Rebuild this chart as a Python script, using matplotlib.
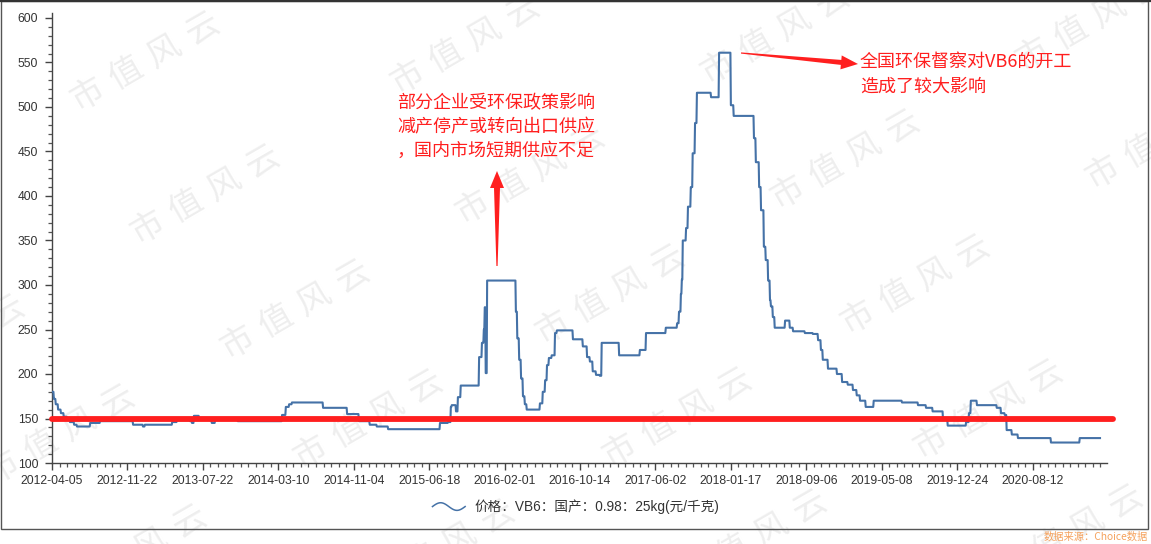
#!/usr/bin/env python
"""
VB6 domestic price (yuan/kg), daily, with the 150 reference line and two notes
"""

import numpy as np
import matplotlib
matplotlib.use("Agg")
import matplotlib.pyplot as plt
from matplotlib.lines import Line2D
from matplotlib.patches import Polygon, Rectangle
from matplotlib.legend_handler import HandlerBase
from matplotlib.ticker import FixedLocator

plt.rcParams['font.family'] = ['Liberation Sans', 'Noto Sans CJK SC', 'DejaVu Sans']

W, H = 1151, 544

# ---- data -------------------------------------------------------------
tick_labels = ["2012-04-05", "2012-11-22", "2013-07-22", "2014-03-10",
               "2014-11-04", "2015-06-18", "2016-02-01", "2016-10-14",
               "2017-06-02", "2018-01-17", "2018-09-06", "2019-05-08",
               "2019-12-24", "2020-08-12"]
label_step = 160          # trading days between two date labels
n_days = 2224

# (trading-day index where a price level starts, price)
steps = [(0, 180), (4, 172), (8, 166), (13, 160), (19, 156), (25, 152), (32, 149),
         (38, 146), (47, 143), (53, 141), (81, 145), (102, 147), (172, 143),
         (193, 141), (197, 143), (255, 146), (265, 148), (293, 147), (297, 145),
         (301, 153), (312, 150), (335, 148), (339, 145), (346, 149), (394, 147),
         (488, 154), (496, 163), (503, 166), (509, 168), (575, 162), (626, 155),
         (651, 147), (674, 143), (689, 141), (713, 138), (823, 145), (840, 146),
         (846, 163), (848, 165), (857, 158), (861, 174), (867, 187), (906, 219),
         (912, 235), (916, 250), (918, 275), (920, 201), (923, 305), (984, 270),
         (987, 240), (991, 216), (995, 195), (999, 175), (1003, 166), (1007, 160),
         (1035, 167), (1041, 180), (1046, 193), (1050, 210), (1054, 218),
         (1060, 221), (1067, 246), (1071, 249), (1105, 239), (1126, 231),
         (1135, 219), (1141, 214), (1147, 203), (1154, 199), (1162, 198),
         (1166, 235), (1203, 221), (1247, 227), (1260, 246), (1302, 252),
         (1326, 257), (1330, 270), (1334, 290), (1336, 306), (1338, 350),
         (1345, 364), (1349, 388), (1355, 410), (1359, 448), (1364, 482),
         (1368, 516), (1398, 511), (1415, 561), (1440, 502), (1446, 490),
         (1489, 465), (1493, 438), (1500, 410), (1504, 384), (1510, 343),
         (1514, 328), (1519, 305), (1523, 283), (1525, 276), (1529, 264),
         (1533, 252), (1555, 260), (1565, 252), (1572, 248), (1597, 246),
         (1614, 245), (1625, 238), (1631, 227), (1635, 216), (1646, 206),
         (1665, 200), (1676, 191), (1688, 188), (1699, 182), (1707, 176),
         (1714, 170), (1726, 163), (1743, 170), (1803, 168), (1837, 165),
         (1854, 162), (1868, 158), (1890, 149), (1900, 142), (1939, 146),
         (1945, 156), (1949, 170), (1962, 165), (2004, 162), (2013, 156),
         (2021, 154), (2025, 137), (2036, 132), (2049, 128), (2119, 123),
         (2180, 128)]

ref_level = 150
series_name = "价格：VB6：国产：0.98：25kg(元/千克)"
note_left = ["部分企业受环保政策影响", "减产停产或转向出口供应", "，国内市场短期供应不足"]
note_right = ["全国环保督察对VB6的开工", "造成了较大影响"]
source_text = "数据来源：Choice数据"
watermark = "市值风云"

starts = [s for s, v in steps]
levels = [v for s, v in steps]
prices = np.repeat(levels, np.diff(starts + [n_days]))
days = np.arange(n_days)

RED = '#ff1f1f'
BLUE = '#4572A7'


def fxy(x, y):
    # pixel (from top-left) -> figure fraction
    return x / W, 1 - y / H


def arrow_poly(x0, y0, x1, y1, tail_w, neck_w, head_w, head_len):
    p0 = np.array([x0, y0], float)
    p1 = np.array([x1, y1], float)
    u = (p1 - p0) / np.hypot(*(p1 - p0))
    n = np.array([-u[1], u[0]])
    pb = p1 - u * head_len
    pts = [p0 + n * tail_w / 2, pb + n * neck_w / 2, pb + n * head_w / 2, p1,
           pb - n * head_w / 2, pb - n * neck_w / 2, p0 - n * tail_w / 2]
    return [fxy(*p) for p in pts]


class WaveHandler(HandlerBase):
    def create_artists(self, legend, orig_handle, xdescent, ydescent,
                       width, height, fontsize, trans):
        t = np.linspace(0, 1, 50)
        x = -xdescent + t * width
        y = -ydescent + height / 2 + np.sin(t * 2 * np.pi) * height * 0.4
        ln = Line2D(x, y, color=orig_handle.get_color(), lw=1.1)
        ln.set_transform(trans)
        return [ln]


fig = plt.figure(figsize=(W / 100, H / 100), dpi=100)
fig.patch.set_facecolor('white')

ax_l, ax_r, ax_t, ax_b = 52, 1107, 13, 463
ax = fig.add_axes([ax_l / W, 1 - ax_b / H, (ax_r - ax_l) / W, (ax_b - ax_t) / H])
ax.patch.set_alpha(0)

# watermarks, one glyph at a time so the spacing matches
wm_centers = [(145, 62), (465, 45), (775, 35), (1090, 22),
              (205, 195), (530, 175), (845, 160), (1160, 140),
              (-50, 345), (295, 310), (610, 295), (915, 285),
              (60, 435), (368, 420), (677, 418), (988, 410),
              (132, 555), (440, 550), (752, 540), (1068, 535)]
ang = np.deg2rad(30)
for cx, cy in wm_centers:
    for k, ch in enumerate(watermark):
        d = (k - 1.5) * 44
        gx, gy = cx + d * np.cos(ang), cy - d * np.sin(ang)
        if not (-20 < gx < W + 20 and -20 < gy < H + 20):
            continue
        ax.text(*fxy(gx, gy), ch, transform=fig.transFigure, rotation=30,
                ha='center', va='center', fontsize=24, color='#eeeeee',
                family=['Noto Sans CJK SC'], zorder=0.5, clip_on=False)

line, = ax.plot(days, prices, color=BLUE, lw=1.5, zorder=3, label=series_name)
ax.axhline(ref_level, xmin=0, xmax=1.006, color=RED, lw=4.2,
           solid_capstyle='round', clip_on=False, zorder=4)

ax.set_xlim(0, (ax_r - ax_l) * label_step / 75.43)
ax.set_ylim(100, 100 + (ax_b - ax_t) / 0.89)

ax.xaxis.set_major_locator(FixedLocator(np.arange(len(tick_labels)) * label_step))
ax.set_xticklabels(tick_labels)
ax.xaxis.set_minor_locator(FixedLocator(np.arange(0, n_days + 1, 16)))
ax.set_yticks(np.arange(100, 601, 50))
ax.yaxis.set_minor_locator(FixedLocator(np.arange(100, 601, 10)))

for s in ['top', 'right']:
    ax.spines[s].set_visible(False)
for s in ['left', 'bottom']:
    ax.spines[s].set_color('#444444')
    ax.spines[s].set_linewidth(1.0)

ax.tick_params(which='major', length=5, width=1, color='#444444',
               labelsize=8.7, labelcolor='#333333')
ax.tick_params(which='minor', length=3, width=0.9, color='#555555')
ax.tick_params(axis='x', which='major', pad=4)
ax.tick_params(axis='y', which='major', pad=5)

# notes
for i, txt in enumerate(note_left):
    fig.text(*fxy(397, 103 + 24 * i), txt, ha='left', va='center',
             fontsize=13, color=RED, family=['Noto Sans CJK SC'])
for i, txt in enumerate(note_right):
    fig.text(*fxy(860, 62 + 25 * i), txt, ha='left', va='center',
             fontsize=13, color=RED, family=['Noto Sans CJK SC'])

fig.add_artist(Polygon(arrow_poly(497, 266, 497, 171, 1.2, 6, 14, 17),
                       closed=True, transform=fig.transFigure,
                       facecolor=RED, edgecolor='none', zorder=6))
fig.add_artist(Polygon(arrow_poly(741, 53, 858, 64, 1.2, 5, 14, 17),
                       closed=True, transform=fig.transFigure,
                       facecolor=RED, edgecolor='none', zorder=6))

leg = fig.legend(handles=[line], loc='center', bbox_to_anchor=fxy(576, 507),
                 frameon=False, handler_map={Line2D: WaveHandler()},
                 handlelength=2.4, handletextpad=0.7,
                 prop={'size': 9.8, 'family': ['Liberation Sans', 'Noto Sans CJK SC']})
for t in leg.get_texts():
    t.set_color('#333333')

fig.text(*fxy(1148, 537), source_text, ha='right', va='center', fontsize=7.4,
         color='#f5a25d', family=['Noto Sans CJK SC', 'Liberation Sans'])

# outer frame
fig.add_artist(Rectangle(fxy(0.5, 529), 1147.5 / W, 528.5 / H,
                         transform=fig.transFigure, fill=False,
                         edgecolor='#555555', lw=1.0, zorder=7))
fig.add_artist(Line2D([0, 1], [1 - 0.8 / H] * 2, transform=fig.transFigure,
                      color='#333333', lw=1.6, zorder=7))

fig.savefig("out.png", dpi=100, facecolor='white')
